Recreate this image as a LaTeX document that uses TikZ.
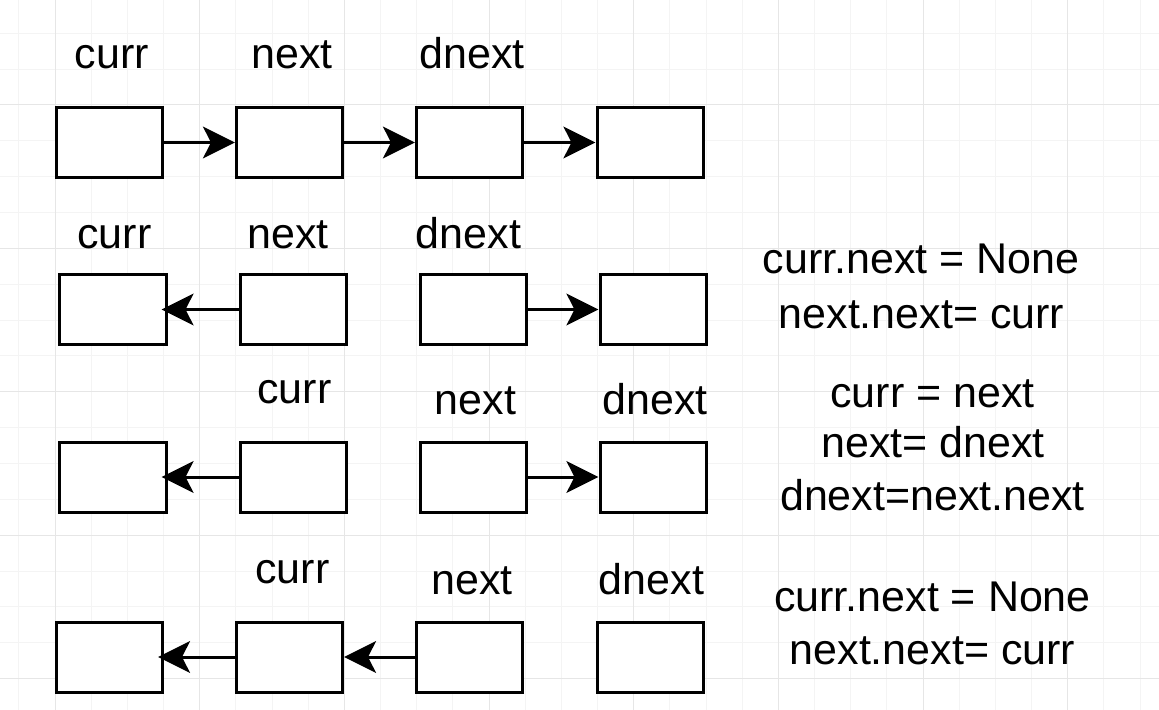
\documentclass[tikz,border=0pt]{standalone}
\usepackage{fontspec}
\setmainfont{Liberation Sans}
\usetikzlibrary{arrows.meta}
\definecolor{gridminor}{HTML}{F4F4F4}
\definecolor{gridmajor}{HTML}{E6E6E6}

\begin{document}
\begin{tikzpicture}[x=0.03cm,y=-0.03cm,
  cell/.style={draw=black,fill=white,line width=0.09cm,minimum width=3.18cm,
    minimum height=2.1cm,inner sep=0pt},
  lbl/.style={anchor=base,inner sep=0pt,font=\fontsize{36.7}{44}\selectfont},
  a/.style={-{Stealth[length=0.96cm,width=0.95cm,inset=0.24cm]},line width=0.09cm},
  ai/.style={a,shorten >=-0.18cm}]
\useasboundingbox (0,0) rectangle (1159,710);
\fill[white] (0,0) rectangle (1159,710);
\foreach \i in {0,...,31} \draw[gridminor,line width=0.03cm] ({18.83+36.17*\i},0)--({18.83+36.17*\i},710);
\foreach \k in {-2,...,16} \draw[gridminor,line width=0.03cm] (0,{105+35.85*\k})--(1159,{105+35.85*\k});
\foreach \i in {0,...,7} \draw[gridmajor,line width=0.03cm] ({55+144.68*\i},0)--({55+144.68*\i},710);
\foreach \k in {0,...,4} \draw[gridmajor,line width=0.03cm] (0,{105+143.4*\k})--(1159,{105+143.4*\k});

\node[cell] (b11) at (109.5,142.5) {}; \node[cell] (b12) at (289.5,142.5) {};
\node[cell] (b13) at (469.5,142.5) {}; \node[cell] (b14) at (650,142.5) {};
\node[lbl] (l11) at (112,69) {curr}; \node[lbl] (l12) at (292,69) {next};
\node[lbl] (l13) at (472,69) {dnext};
\draw[a] (b11)--(b12); \draw[a] (b12)--(b13); \draw[a] (b13)--(b14);

\node[cell] (b21) at (113,309.5) {}; \node[cell] (b22) at (293,309.5) {};
\node[cell] (b23) at (473,309.5) {}; \node[cell] (b24) at (653,309.5) {};
\node[lbl] (l21) at (114.5,249) {curr}; \node[lbl] (l22) at (288,249) {next};
\node[lbl] (l23) at (468.5,249) {dnext};
\draw[ai] (b22)--(b21); \draw[a] (b23)--(b24);
\node[lbl] (s21) at (921,273) {curr.next = None};
\node[lbl] (s22) at (921.5,328) {next.next= curr};

\node[cell] (b31) at (113,477) {}; \node[cell] (b32) at (293,477) {};
\node[cell] (b33) at (473,477) {}; \node[cell] (b34) at (653,477) {};
\node[lbl] (l31) at (294.5,403) {curr}; \node[lbl] (l32) at (475.5,414) {next};
\node[lbl] (l33) at (655,414) {dnext};
\draw[ai] (b32)--(b31); \draw[a] (b33)--(b34);
\node[lbl] (s31) at (932.5,407) {curr = next};
\node[lbl] (s32) at (933,457) {next= dnext};
\node[lbl] (s33) at (932.5,510) {dnext=next.next};

\node[cell] (b41) at (109.5,657) {}; \node[cell] (b42) at (289.5,657) {};
\node[cell] (b43) at (469.5,657) {}; \node[cell] (b44) at (650,657) {};
\node[lbl] (l41) at (292.5,583) {curr}; \node[lbl] (l42) at (472,594) {next};
\node[lbl] (l43) at (651.5,594) {dnext};
\draw[ai] (b42)--(b41); \draw[a] (b43)--(b42);
\node[lbl] (s41) at (932.5,611) {curr.next = None};
\node[lbl] (s42) at (932.5,664) {next.next= curr};
\end{tikzpicture}
\end{document}
